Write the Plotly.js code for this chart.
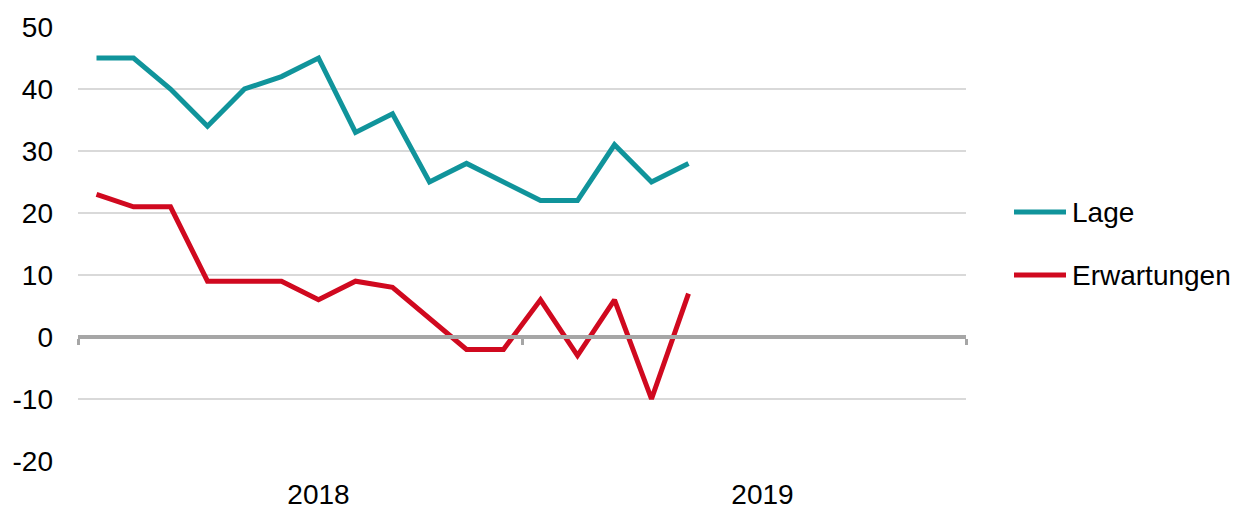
<!DOCTYPE html>
<html>
<head>
<meta charset="utf-8">
<script src="https://cdn.plot.ly/plotly-3.0.1.min.js"></script>
<style>html,body{margin:0;padding:0;background:#fff}#chart{width:1250px;height:509px}</style>
</head>
<body>
<div id="chart"></div>
<script>
// Monthly categories (Jan 2018 - Dec 2019)
const months = ['Jan 18','Feb 18','Mär 18','Apr 18','Mai 18','Jun 18','Jul 18','Aug 18','Sep 18','Okt 18','Nov 18','Dez 18',
                'Jan 19','Feb 19','Mär 19','Apr 19','Mai 19','Jun 19','Jul 19','Aug 19','Sep 19','Okt 19','Nov 19','Dez 19'];
const yearLabels = ['2018','2019'];
const seriesNames = ['Lage','Erwartungen'];
const seriesColors = ['#10949B','#D0091F'];
const lage = [45,45,40,34,40,42,45,33,36,25,28,25,22,22,31,25,28];
const erwartungen = [23,21,21,9,9,9,6,9,8,3,-2,-2,6,-3,6,-10,7];
const yTicks = [-20,-10,0,10,20,30,40,50];
const yTickText = ['-20','-10','0','10','20','30','40','50'];

const idx = arr => arr.map((v,i)=>i);
const font = {family:'Liberation Sans, Arial, sans-serif', size:28, color:'#000'};
const nMonths = months.length;
const yearTickPos = yearLabels.map((y,i)=> i*12 + 6);
const yearBoundaries = [-0.5, 11.5, 23.5];

const traces = [
  {x: idx(lage), y: lage, name:seriesNames[0], type:'scatter', mode:'lines',
   line:{color:seriesColors[0], width:5}, hoverinfo:'y'},
  {x: idx(erwartungen), y: erwartungen, name:seriesNames[1], type:'scatter', mode:'lines',
   line:{color:seriesColors[1], width:5}, hoverinfo:'y'},
  {x: [0], y:[null], xaxis:'x2', showlegend:false, hoverinfo:'skip'}
];

// Legend drawn to the right of the plot (pixel layout converted to paper coords)
const M = {l:78, r:284, t:27, b:48}, W = 1250, H = 509;
const pw = W - M.l - M.r, ph = H - M.t - M.b;
const px2x = p => (p - M.l) / pw;
const py2y = p => (H - M.b - p) / ph;
const legendRows = [212, 275];
const shapes = seriesNames.map((n,i)=>({
  type:'line', xref:'paper', yref:'paper', x0:px2x(1014), x1:px2x(1066),
  y0:py2y(legendRows[i]), y1:py2y(legendRows[i]), line:{color:seriesColors[i], width:5}
}));
const annotations = seriesNames.map((n,i)=>({
  xref:'paper', yref:'paper', x:px2x(1070), y:py2y(legendRows[i]), xanchor:'left', yanchor:'middle',
  text:n, showarrow:false, font:font
}));

const layout = {
  width:W, height:H,
  margin:M,
  paper_bgcolor:'#fff', plot_bgcolor:'#fff',
  font: font,
  showlegend:false,
  shapes: shapes,
  annotations: annotations,
  yaxis:{range:[-20,50], tickvals:yTicks, ticktext:yTickText, showgrid:true, gridcolor:'#D9D9D9', gridwidth:1.5,
         zeroline:false, showline:false, ticks:'', ticklabelstandoff:24, tickfont:font, fixedrange:true},
  xaxis:{range:[-0.5, nMonths-0.5], anchor:'free', position:20/70, showline:true, linecolor:'#A6A6A6', linewidth:4,
         showgrid:false, zeroline:false, ticks:'outside', tickvals:yearBoundaries, ticklen:6, tickwidth:3,
         tickcolor:'#A6A6A6', showticklabels:false, fixedrange:true},
  xaxis2:{range:[-0.5, nMonths-0.5], overlaying:'x', anchor:'y', side:'bottom', showline:false, showgrid:false,
          zeroline:false, ticks:'', tickvals:yearTickPos, ticktext:yearLabels, tickfont:font,
          ticklabelstandoff:14, fixedrange:true}
};

Plotly.newPlot('chart', traces, layout, {displayModeBar:false, staticPlot:true});
</script>
</body>
</html>
